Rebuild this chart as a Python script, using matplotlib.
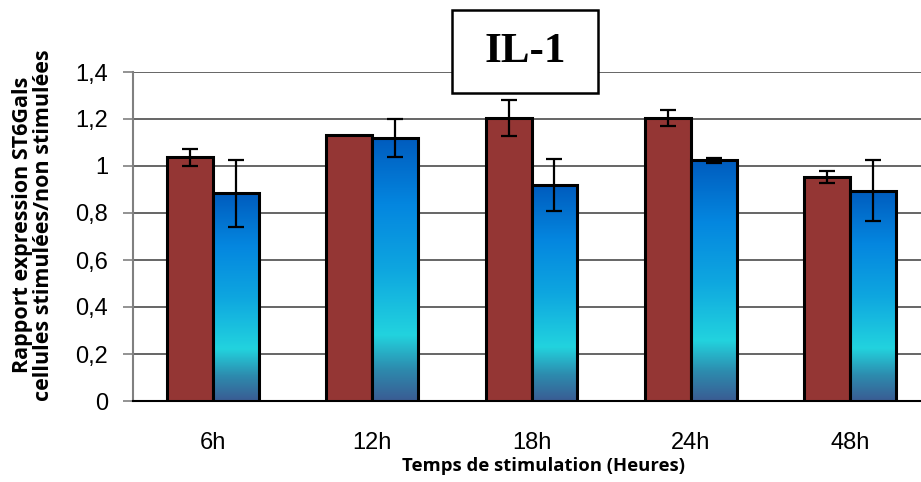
import numpy as np
import matplotlib
matplotlib.use("Agg")
import matplotlib.pyplot as plt
from matplotlib.colors import LinearSegmentedColormap
from matplotlib.patches import Rectangle

# Data: expression ratio (stimulated / non-stimulated) per stimulation time
categories = ["6h", "12h", "18h", "24h", "48h"]
red_values = [1.037, 1.131, 1.203, 1.203, 0.953]
red_errors = [0.037, 0.0, 0.076, 0.034, 0.025]
blue_values = [0.884, 1.118, 0.919, 1.024, 0.894]
blue_errors = [0.143, 0.080, 0.110, 0.010, 0.130]
y_ticks = [0, 0.2, 0.4, 0.6, 0.8, 1.0, 1.2, 1.4]
y_tick_labels = ["0", "0,2", "0,4", "0,6", "0,8", "1", "1,2", "1,4"]

W, H, DPI = 921, 482, 100
fig = plt.figure(figsize=(W / DPI, H / DPI), dpi=DPI)

# Plot area (extends slightly past the right edge of the canvas)
left_px, right_px, top_px, bottom_px = 133, 930, 72, 401
ax = fig.add_axes([left_px / W, 1 - bottom_px / H,
                   (right_px - left_px) / W, (bottom_px - top_px) / H])

x = np.arange(len(categories))
bw = 0.288
red_color = "#943634"

ax.set_axisbelow(True)
ax.yaxis.grid(True, color="#595959", linewidth=1.3)

err_kw = dict(ecolor="black", elinewidth=1.6, capsize=5.5, capthick=1.6)


def draw_errors(xpos, values, errors):
    xs = np.asarray(xpos)
    v = np.asarray(values)
    e = np.asarray(errors)
    keep = e > 0
    ax.errorbar(xs[keep], v[keep], yerr=e[keep], fmt="none", zorder=5, **err_kw)


red_bars = ax.bar(x - bw / 2, red_values, bw, color=red_color,
                  edgecolor="black", linewidth=2.2, zorder=3)
draw_errors(x - bw / 2, red_values, red_errors)

# Blue bars filled with a vertical gradient
blue_cmap = LinearSegmentedColormap.from_list(
    "bluegrad",
    [(0.00, "#3A5C93"), (0.12, "#2D8BAE"), (0.25, "#22D3DE"),
     (0.50, "#0EA6E0"), (0.75, "#0486DF"), (1.00, "#005CBE")])
grad = np.linspace(0, 1, 256).reshape(-1, 1)
blue_bars = ax.bar(x + bw / 2, blue_values, bw, facecolor="none",
                   edgecolor="black", linewidth=2.2, zorder=4)
for b in blue_bars:
    x0, y0 = b.get_x(), b.get_y()
    im = ax.imshow(grad, cmap=blue_cmap, origin="lower", aspect="auto",
                   extent=[x0, x0 + b.get_width(), y0, y0 + b.get_height()],
                   zorder=3.5, interpolation="bilinear")
    im.set_clip_path(b)
draw_errors(x + bw / 2, blue_values, blue_errors)

ax.set_xlim(-0.5, len(categories) - 0.5)
ax.set_ylim(0, 1.4)
ax.set_yticks(y_ticks)
ax.set_yticklabels(y_tick_labels, family="Liberation Sans", fontsize=17)
ax.set_xticks(x)
ax.set_xticklabels(categories, family="Liberation Sans", fontsize=17)
ax.tick_params(axis="x", length=0, pad=22)
ax.tick_params(axis="y", length=7, width=1.2, color="#808080", pad=11)

for s in ["top", "right"]:
    ax.spines[s].set_visible(False)
ax.spines["left"].set_color("#808080")
ax.spines["left"].set_linewidth(1.5)
ax.spines["bottom"].set_color("black")
ax.spines["bottom"].set_linewidth(1.5)

fig.text(543 / W, 1 - 466 / H, "Temps de stimulation (Heures)",
         family="Open Sans", fontweight="bold", fontsize=13.3,
         ha="center", va="center")
fig.text(33 / W, 1 - 225 / H, "Rapport expression ST6Gals\ncellules stimulées/non stimulées",
         family="Open Sans", fontweight="bold", fontsize=15.5, rotation=90,
         ha="center", va="center", linespacing=1.0)

# Title box
fig.patches.append(Rectangle((452 / W, 1 - 93 / H), (598 - 452) / W, (93 - 10) / H,
                             transform=fig.transFigure, facecolor="white",
                             edgecolor="black", linewidth=1.8, zorder=10))
fig.text(525 / W, 1 - 52 / H, "IL-1", family="Liberation Serif",
         fontweight="bold", fontsize=31, ha="center", va="center", zorder=11)

fig.savefig("out.png", dpi=DPI)
